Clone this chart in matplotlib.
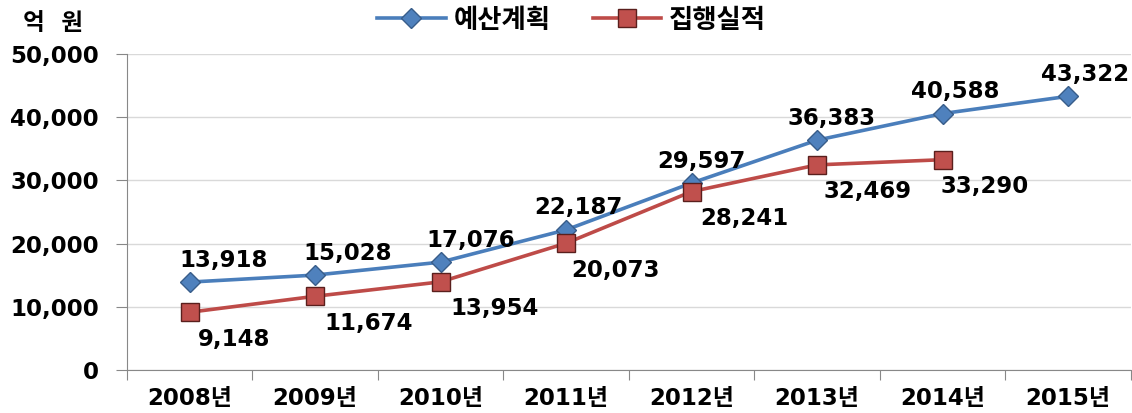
import matplotlib.pyplot as plt
from matplotlib.ticker import FuncFormatter, FixedLocator

plt.rcParams['font.family'] = ['DejaVu Sans', 'Noto Sans CJK KR']
plt.rcParams['font.weight'] = 'bold'

years = ['2008년', '2009년', '2010년', '2011년', '2012년', '2013년', '2014년', '2015년']
plan = [13918, 15028, 17076, 22187, 29597, 36383, 40588, 43322]
actual = [9148, 11674, 13954, 20073, 28241, 32469, 33290]

# label shifts in pixels (x only)
plan_dx = [34, 33, 30, 12, 10, 14, 13, 17]
actual_dx = [45, 54, 54, 49, 53, 50, 42]

fig = plt.figure(figsize=(11.32, 4.13), dpi=100)
ax = fig.add_axes([0.112, 0.104, 0.887, 0.765])

x = list(range(len(years)))
ax.plot(x, plan, color='#4A7EBB', lw=2.6, marker='D', ms=10,
        mfc='#4F81BD', mec='#385D8A', mew=1, label='예산계획', zorder=3)
ax.plot(x[:len(actual)], actual, color='#BE4B48', lw=2.6, marker='s', ms=13,
        mfc='#C0504D', mec='#5A1F1D', mew=1, label='집행실적', zorder=3)

for i, v in enumerate(plan):
    ax.annotate(f'{v:,}', (i, v), xytext=(plan_dx[i], 22), textcoords='offset pixels',
                ha='center', va='center', fontsize=16.5, fontweight='bold')
for i, v in enumerate(actual):
    ax.annotate(f'{v:,}', (i, v), xytext=(actual_dx[i], -27), textcoords='offset pixels',
                ha='center', va='center', fontsize=16.5, fontweight='bold')

ax.set_xlim(-0.5, len(years) - 0.5)
ax.set_ylim(0, 50000)
ax.set_yticks(range(0, 50001, 10000))
ax.yaxis.set_major_formatter(FuncFormatter(lambda v, p: f'{int(v):,}'))
ax.xaxis.set_major_locator(FixedLocator([i + 0.5 for i in range(-1, len(years))]))
ax.xaxis.set_minor_locator(FixedLocator(x))
ax.set_xticklabels([])
ax.set_xticklabels(years, minor=True)
ax.tick_params(axis='x', which='major', length=7, color='#888888', direction='out')
ax.tick_params(axis='x', which='minor', length=0, pad=12, labelsize=16.5)
ax.tick_params(axis='y', length=8, color='#888888', pad=12, labelsize=16.5)

ax.grid(axis='y', color='#D9D9D9', lw=1)
ax.set_axisbelow(True)
for s in ['top', 'right']:
    ax.spines[s].set_visible(False)
for s in ['left', 'bottom']:
    ax.spines[s].set_color('#888888')

fig.text(0.02, 0.945, '억  원', fontsize=17, fontweight='bold', va='center')
fig.legend(loc='center', bbox_to_anchor=(0.505, 0.95), ncol=2, frameon=False,
           fontsize=19, handlelength=2.6, columnspacing=1.6, handletextpad=0.3)

fig.savefig('out.png', dpi=100)
